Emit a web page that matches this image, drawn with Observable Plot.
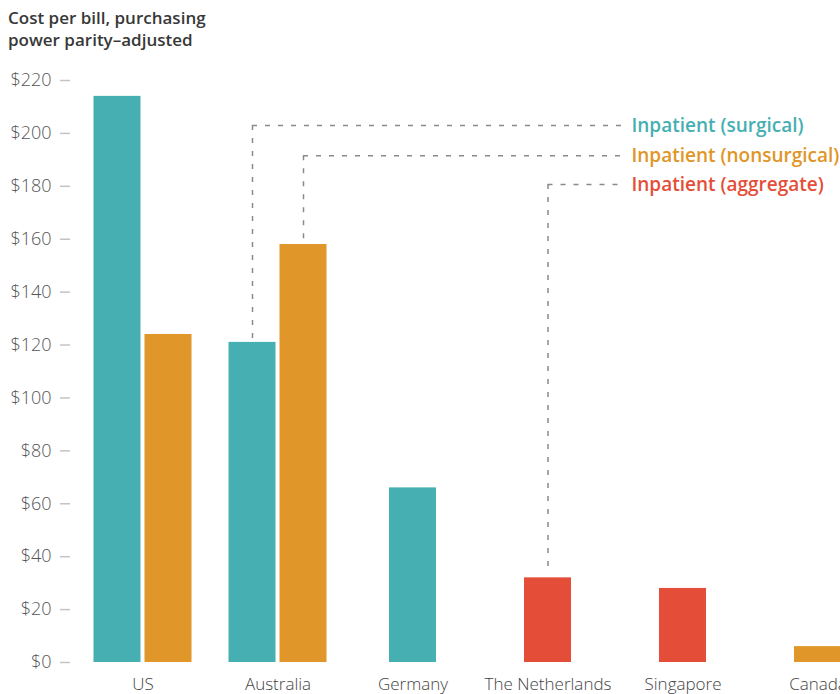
<!DOCTYPE html>
<html><head><meta charset="utf-8">
<script src="https://cdn.jsdelivr.net/npm/d3@7"></script>
<script src="https://cdn.jsdelivr.net/npm/@observablehq/plot@0.6"></script>
<style>
body{margin:0;background:#fff;font-family:"Open Sans",sans-serif;}
#title{height:56px;box-sizing:border-box;padding:7px 0 0 8px;font-size:17px;line-height:22px;font-weight:600;color:#383838;}
#chart svg{display:block;overflow:hidden;}
[aria-label="y-axis tick"]{stroke:#c4c4c4;}
[aria-label="y-axis tick label"]{fill:#555;}
[aria-label="x-axis tick label"]{fill:#444;}
</style></head><body>
<div id="title">Cost per bill, purchasing<br>power parity–adjusted</div>
<div id="chart"></div>
<script>
const countries = ["US", "Australia", "Germany", "The Netherlands", "Singapore", "Canada"];
const seriesNames = ["Inpatient (surgical)", "Inpatient (nonsurgical)", "Inpatient (aggregate)"];
const seriesColors = ["#46AFB2", "#E09628", "#E44E39"];
const surgical    = [214, 121, 66, null, null, null];
const nonsurgical = [124, 158, null, null, null, 6];
const aggregate   = [null, null, null, 32, 28, null];
const yTicks = [0, 20, 40, 60, 80, 100, 120, 140, 160, 180, 200, 220];
// legend labels: the bar each one points at, and its height (in $)
const labelCountry = ["Australia", "Australia", "The Netherlands"];
const labelLevel = [203, 191.6, 180.7];

const W = 840, H = 638;
const seriesValues = [surgical, nonsurgical, aggregate];
const rows = [];
countries.forEach((c, i) => {
  const present = seriesValues.map((v, s) => ({s, v: v[i]})).filter(d => d.v != null);
  present.forEach((d, k) => rows.push({
    country: c, series: seriesNames[d.s], value: d.v,
    slot: present.length === 1 ? "center" : (k === 0 ? "left" : "right")
  }));
});
const bw = 47, half = 25.5, step = 135, c0 = 142;
const r0 = c0 - bw / 2, r1 = r0 + step * (countries.length - (1 - bw / step));
const slotDx = {left: -half, center: 0, right: half};
const lastCountry = countries[countries.length - 1];
const ann = seriesNames.map((s, i) => {
  const r = rows.find(d => d.series === s && d.country === labelCountry[i]);
  return {...r, level: labelLevel[i], label: s, edge: lastCountry};
});
const lineEnd = 622, labelStart = 631;
const dashStyle = {stroke: "#8a8a8a", strokeWidth: 1.5, strokeDasharray: "5,8"};

const marks = [];
for (const slot of ["left", "center", "right"]) {
  marks.push(Plot.barY(rows.filter(d => d.slot === slot), {x: "country", y: "value", fill: "series", dx: slotDx[slot]}));
}
for (const a of ann) {
  marks.push(Plot.ruleX([a], {x: "country", y1: "level", y2: "value", dx: slotDx[a.slot], insetBottom: 4, ...dashStyle}));
  marks.push(Plot.ruleY([a], {y: "level", x1: "country", x2: "edge", insetLeft: bw / 2 + slotDx[a.slot], insetRight: r1 - lineEnd, ...dashStyle}));
}
marks.push(Plot.text(ann, {y: "level", text: "label", fill: "series", frameAnchor: "left", textAnchor: "start", dx: labelStart - 70, fontSize: 19, fontWeight: 600}));
marks.push(Plot.axisY({ticks: yTicks, tickFormat: d => "$" + d, tickSize: 10, tickPadding: 9, strokeWidth: 1.5, fontSize: 18, fontWeight: 300, label: null}));
marks.push(Plot.axisX({tickSize: 0, tickPadding: 15, fontSize: 17, fontWeight: 300, label: null}));

const plot = Plot.plot({
  width: W, height: H,
  marginLeft: 70, marginRight: 0, marginTop: 24, marginBottom: 32,
  style: {fontFamily: "Open Sans, sans-serif", fontSize: "18px", background: "#fff"},
  x: {domain: countries, range: [r0, r1], paddingInner: 1 - bw / step, paddingOuter: 0, axis: null},
  y: {domain: [0, 220], axis: null},
  color: {domain: seriesNames, range: seriesColors},
  marks
});
document.getElementById("chart").appendChild(plot);
</script>
</body></html>
